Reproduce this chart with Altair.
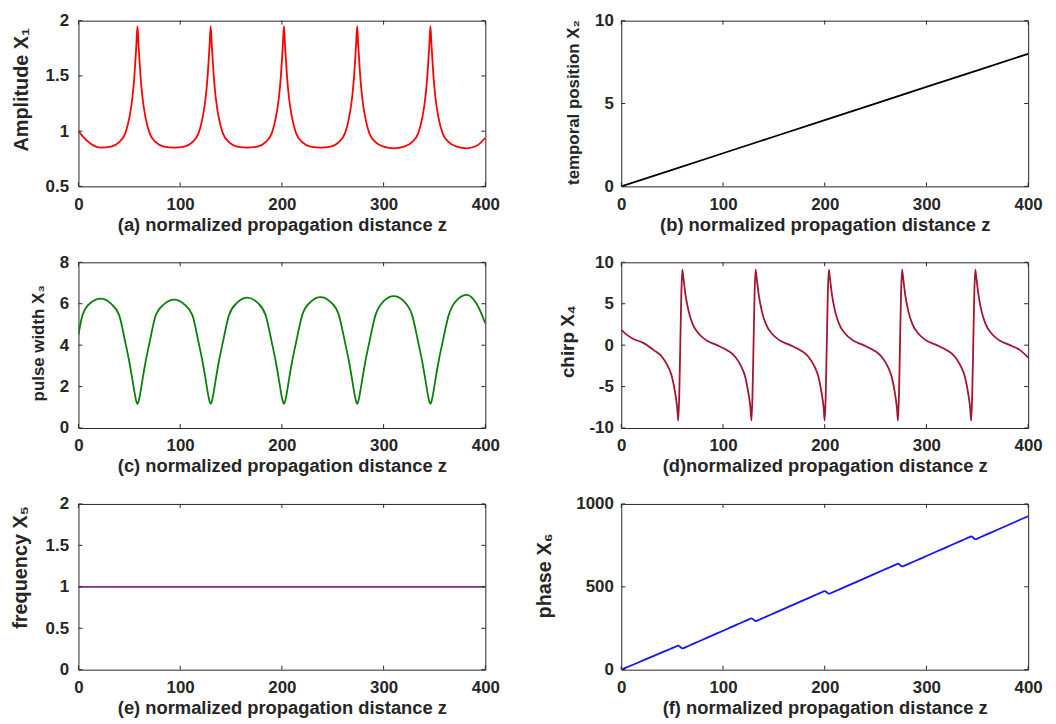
import altair as alt
import pandas as pd

# ---------------- data ----------------
Z = [0, 4, 12, 22,
     32, 40, 46, 50, 53, 55, 56, 57, 58, 59, 60, 61, 63, 66, 70, 76, 84, 94,
     104, 112, 118, 122, 125, 127, 128, 129, 130, 131, 132, 133, 135, 138, 142, 148, 156, 166,
     176, 184, 190, 194, 197, 199, 200, 201, 202, 203, 204, 205, 207, 210, 214, 220, 228, 238,
     248, 256, 262, 266, 269, 271, 272, 273, 274, 275, 276, 277, 279, 282, 286, 292, 300, 310,
     320, 328, 334, 338, 341, 343, 344, 345, 346, 347, 348, 349, 351, 354, 358, 364, 372, 382,
     392, 400]

X1 = [1.00, 0.955, 0.885, 0.85,
      0.86, 0.90, 0.98, 1.12, 1.30, 1.50, 1.64, 1.79, 1.95, 1.79, 1.64, 1.50, 1.30, 1.12, 0.98, 0.90, 0.86, 0.85,
      0.86, 0.90, 0.98, 1.12, 1.30, 1.50, 1.64, 1.79, 1.95, 1.79, 1.64, 1.50, 1.30, 1.12, 0.98, 0.90, 0.86, 0.85,
      0.86, 0.90, 0.98, 1.12, 1.30, 1.50, 1.64, 1.79, 1.95, 1.79, 1.64, 1.50, 1.30, 1.12, 0.98, 0.90, 0.86, 0.85,
      0.86, 0.90, 0.98, 1.12, 1.30, 1.50, 1.64, 1.79, 1.95, 1.79, 1.64, 1.50, 1.30, 1.12, 0.98, 0.90, 0.86, 0.845,
      0.86, 0.90, 0.98, 1.12, 1.30, 1.50, 1.64, 1.79, 1.95, 1.79, 1.64, 1.50, 1.30, 1.12, 0.98, 0.90, 0.86, 0.845,
      0.87, 0.94]

Z2 = [0, 100, 200, 300, 400]
X2 = [0, 2, 4, 6, 8]

X3 = [4.5, 5.45, 6.05, 6.25,
      6.0, 5.45, 4.15, 3.2, 2.35, 1.75, 1.48, 1.27, 1.17, 1.27, 1.48, 1.75, 2.35, 3.2, 4.15, 5.45, 5.97, 6.2,
      5.97, 5.45, 4.15, 3.2, 2.35, 1.75, 1.48, 1.27, 1.17, 1.27, 1.48, 1.75, 2.35, 3.2, 4.15, 5.45, 6.05, 6.3,
      6.05, 5.45, 4.15, 3.2, 2.35, 1.75, 1.48, 1.27, 1.17, 1.27, 1.48, 1.75, 2.35, 3.2, 4.15, 5.45, 6.08, 6.32,
      6.08, 5.45, 4.15, 3.2, 2.35, 1.75, 1.48, 1.27, 1.17, 1.27, 1.48, 1.75, 2.35, 3.2, 4.15, 5.45, 6.12, 6.37,
      6.12, 5.45, 4.15, 3.2, 2.35, 1.75, 1.48, 1.27, 1.17, 1.27, 1.48, 1.75, 2.35, 3.2, 4.15, 5.45, 6.18, 6.43,
      5.95, 5.05]

X4 = [1.85, 1.4, 0.75, 0.25,
      -0.6, -1.4, -2.6, -3.9, -5.8, -7.6, -9.1, -6.0, 0.0, 6.0, 9.1, 8.2, 6.2, 4.2, 2.6, 1.4, 0.55, 0.0,
      -0.6, -1.4, -2.6, -3.9, -5.8, -7.6, -9.1, -6.0, 0.0, 6.0, 9.1, 8.2, 6.2, 4.2, 2.6, 1.4, 0.55, 0.0,
      -0.6, -1.4, -2.6, -3.9, -5.8, -7.6, -9.1, -6.0, 0.0, 6.0, 9.1, 8.2, 6.2, 4.2, 2.6, 1.4, 0.55, 0.0,
      -0.6, -1.4, -2.6, -3.9, -5.8, -7.6, -9.1, -6.0, 0.0, 6.0, 9.1, 8.2, 6.2, 4.2, 2.6, 1.4, 0.55, 0.0,
      -0.6, -1.4, -2.6, -3.9, -5.8, -7.6, -9.1, -6.0, 0.0, 6.0, 9.1, 8.2, 6.2, 4.2, 2.6, 1.4, 0.55, 0.0,
      -0.6, -1.5]

Z5 = [0, 400]
X5 = [1, 1]

X6 = [0, 10.4, 31.2, 57.2,
      83.2, 104, 119.6, 130, 137.8, 143, 145, 143, 137, 132, 129, 129.5, 134.9, 143, 153.8, 170, 191.6, 218.6,
      245.6, 267.2, 283.4, 294.2, 302.3, 307.7, 309.7, 307.7, 301.7, 296.7, 293.7, 294.2, 299.6, 307.7, 318.5, 334.7, 356.3, 383.3,
      410.3, 431.9, 448.1, 458.9, 467, 472.4, 474.4, 472.4, 466.4, 461.4, 458.4, 458.9, 464.3, 472.4, 483.2, 499.4, 521, 548,
      575, 596.6, 612.8, 623.6, 631.7, 637.1, 639.1, 637.1, 631.1, 626.1, 623.1, 623.6, 629, 637.1, 647.9, 664.1, 685.7, 712.7,
      739.7, 761.3, 777.5, 788.3, 796.4, 801.8, 803.8, 801.8, 795.8, 790.8, 787.8, 788.3, 793.7, 801.8, 812.6, 828.8, 850.4, 877.4,
      904.4, 926]

X_TICKS = [0, 100, 200, 300, 400]

# ---------------- styling ----------------
FONT = "Liberation Sans"
TXT = "#262626"
W, H = 410, 167
TL = 4  # inward tick length


def panel(z, v, color, ydom, yticks, ytitle, xtitle, lpad, tsize, tx, ty):
    df = pd.DataFrame({"z": z, "v": v})
    xs = alt.Scale(domain=[0, 400], nice=False, zero=False)
    ys = alt.Scale(domain=ydom, nice=False, zero=False)
    xaxis = alt.Axis(values=X_TICKS, title=xtitle, labelExpr="'' + datum.value",
                     labelPadding=10, titlePadding=3)
    yaxis = alt.Axis(values=yticks, title=ytitle, labelExpr="'' + datum.value",
                     labelPadding=lpad, titleFontSize=tsize, titleX=tx, titleY=ty)
    xenc = alt.X("z:Q", scale=xs, axis=xaxis)
    yenc = alt.Y("v:Q", scale=ys, axis=yaxis)
    line = alt.Chart(df).mark_line(
        color=color, strokeWidth=1.8, interpolate="monotone", clip=True
    ).encode(x=xenc, y=yenc)
    xt = alt.Chart(pd.DataFrame({"z": X_TICKS}))
    yt = alt.Chart(pd.DataFrame({"v": yticks}))
    bt = xt.mark_rule(color=TXT, strokeWidth=1).encode(x=xenc, y=alt.value(H), y2=alt.value(H - TL))
    tt = xt.mark_rule(color=TXT, strokeWidth=1).encode(x=xenc, y=alt.value(0), y2=alt.value(TL))
    lt = yt.mark_rule(color=TXT, strokeWidth=1).encode(y=yenc, x=alt.value(0), x2=alt.value(TL))
    rt = yt.mark_rule(color=TXT, strokeWidth=1).encode(y=yenc, x=alt.value(W - TL), x2=alt.value(W))
    return alt.layer(line, bt, tt, lt, rt).properties(width=W, height=H)


pa = panel(Z, X1, "#ff0000", [0.5, 2], [0.5, 1, 1.5, 2], "Amplitude X\u2081",
           "(a) normalized propagation distance z", 10, 20, -47.5, 69)
pb = panel(Z2, X2, "#000000", [0, 10], [0, 5, 10], "temporal position X\u2082",
           "(b) normalized propagation distance z", 8, 17, -39, 82)
pc = panel(Z, X3, "#0a7f0a", [0, 8], [0, 2, 4, 6, 8], "pulse width X\u2083",
           "(c) normalized propagation distance z", 10, 17, -31.5, 81)
pd_ = panel(Z, X4, "#a2142f", [-10, 10], [-10, -5, 0, 5, 10], "chirp X\u2084",
            "(d)normalized propagation distance z", 8, 19, -44, 79.5)
pe = panel(Z5, X5, "#7e2f8e", [0, 2], [0, 0.5, 1, 1.5, 2], "frequency X\u2085",
           "(e) normalized propagation distance z", 10, 20, -48, 63.5)
pf = panel(Z, X6, "#1515ee", [0, 1000], [0, 500, 1000], "phase X\u2086",
           "(f) normalized propagation distance z", 8, 20, -67, 72)

chart = alt.concat(
    pa, pb, pc, pd_, pe, pf,
    columns=2,
    spacing={"row": 76.5, "column": 137},
    bounds="flush",
).properties(
    padding={"left": 2, "top": 0, "right": 5, "bottom": 5}
).configure_view(
    stroke=TXT, strokeWidth=1
).configure_axis(
    labelFont=FONT, labelFontSize=17, labelFontWeight="bold", labelColor=TXT,
    titleFont=FONT, titleFontWeight="bold", titleColor=TXT,
    domain=False, ticks=False, tickSize=0, grid=False, labelFlush=False,
).configure_axisX(
    titleFontSize=18.5
)

chart.save("out.html", embed_options={"renderer": "svg", "actions": False})
